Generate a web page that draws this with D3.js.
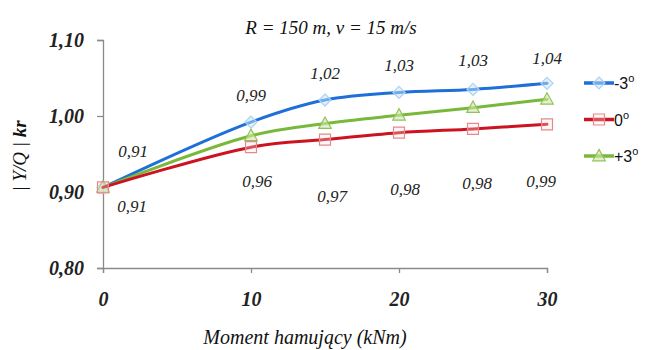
<!DOCTYPE html>
<html>
<head>
<meta charset="utf-8">
<script src="https://cdn.jsdelivr.net/npm/d3@7"></script>
<style>
  html, body { margin: 0; padding: 0; background: #fff; }
  svg { display: block; }
  .serif { font-family: "Liberation Serif", "Times New Roman", Times, "DejaVu Serif", serif; }
  .sans { font-family: "Liberation Sans", Arial, "DejaVu Sans", sans-serif; }
</style>
</head>
<body>
<svg id="chart"></svg>
<script>
// Data
const moments = [0, 10, 15, 20, 25, 30];
const seriesNames = ["-3", "0", "+3"];
const valsMinus3 = [0.906, 0.992, 1.021, 1.031, 1.035, 1.043];
const valsZero = [0.906, 0.959, 0.969, 0.978, 0.983, 0.989];
const valsPlus3 = [0.906, 0.974, 0.990, 1.001, 1.011, 1.022];
const labelsTop = ["0,91", "0,99", "1,02", "1,03", "1,03", "1,04"];
const labelsBottom = ["0,91", "0,96", "0,97", "0,98", "0,98", "0,99"];
const yTicks = [0.80, 0.90, 1.00, 1.10];
const xTicks = [0, 10, 20, 30];

const width = 652, height = 350;
const margin = { top: 40, right: 105, bottom: 82, left: 103 };

const svg = d3.select("#chart").attr("width", width).attr("height", height);

const x = d3.scaleLinear().domain([0, 30]).range([margin.left, width - margin.right]);
const y = d3.scaleLinear().domain([0.80, 1.10]).range([height - margin.bottom, margin.top]);

const axisColor = "#8a8a8a";

// y axis
const yAxis = d3.axisLeft(y).tickValues(yTicks).tickSize(6)
    .tickFormat(function (d) { return d3.format(".2f")(d).replace(".", ","); });
svg.append("g")
    .attr("transform", "translate(" + margin.left + ",0)")
    .call(yAxis)
    .call(function (g) { g.select(".domain").attr("stroke", axisColor).attr("stroke-width", 1.3); })
    .call(function (g) { g.selectAll(".tick line").attr("stroke", axisColor).attr("stroke-width", 1.3); })
    .call(function (g) {
        g.selectAll(".tick text")
            .attr("x", -19)
            .attr("class", "serif")
            .style("font-style", "italic")
            .style("font-weight", "bold")
            .style("font-size", "20px")
            .attr("fill", "#222");
    });

// x axis
const xAxis = d3.axisBottom(x).tickValues(xTicks).tickSize(5).tickSizeOuter(5);
svg.append("g")
    .attr("transform", "translate(0," + (height - margin.bottom) + ")")
    .call(xAxis)
    .call(function (g) { g.select(".domain").attr("stroke", axisColor).attr("stroke-width", 1.3); })
    .call(function (g) { g.selectAll(".tick line").attr("stroke", axisColor).attr("stroke-width", 1.3); })
    .call(function (g) {
        g.selectAll(".tick text")
            .attr("y", 24)
            .attr("class", "serif")
            .style("font-style", "italic")
            .style("font-weight", "bold")
            .style("font-size", "20px")
            .attr("fill", "#222");
    });
svg.selectAll("g").attr("font-family", null).attr("font-size", null);

// series
const series = [
    { name: seriesNames[0], values: valsMinus3, color: "#1f6fd8", marker: "diamond", markColor: "#a9d3f2", markFill: "rgba(200,228,250,0.5)" },
    { name: seriesNames[2], values: valsPlus3, color: "#79b83a", marker: "triangle", markColor: "#8fc45a", markFill: "rgba(210,230,170,0.6)" },
    { name: seriesNames[1], values: valsZero, color: "#cc1420", marker: "square", markColor: "#e48a8a", markFill: "rgba(255,230,230,0.3)" }
];

const line = d3.line()
    .x(function (d) { return x(d[0]); })
    .y(function (d) { return y(d[1]); })
    .curve(d3.curveCatmullRom.alpha(0.5));

function markerPath(type, s) {
    if (type === "diamond") return "M0," + (-s) + "L" + s + ",0L0," + s + "L" + (-s) + ",0Z";
    if (type === "square") return "M" + (-s) + "," + (-s) + "h" + (2 * s) + "v" + (2 * s) + "h" + (-2 * s) + "Z";
    return "M0," + (-s * 1.1) + "L" + (s * 1.05) + "," + (s * 0.8) + "L" + (-s * 1.05) + "," + (s * 0.8) + "Z";
}

series.forEach(function (s) {
    const pts = moments.map(function (m, i) { return [m, s.values[i]]; });
    svg.append("path")
        .datum(pts)
        .attr("d", line)
        .attr("fill", "none")
        .attr("stroke", s.color)
        .attr("stroke-width", 3)
        .attr("stroke-linecap", "round");
    svg.append("g").selectAll("path")
        .data(pts)
        .enter()
        .append("path")
        .attr("transform", function (d) { return "translate(" + x(d[0]) + "," + y(d[1]) + ")"; })
        .attr("d", markerPath(s.marker, s.marker === "square" ? 5.5 : 6))
        .attr("fill", s.markFill)
        .attr("stroke", s.markColor)
        .attr("stroke-width", 1.2);
});

// value labels
const topOffsets = [[30, -36], [0, -27], [0, -27], [0, -27], [0, -29], [0, -25]];
const bottomOffsets = [[29, 19], [6, 34], [7, 56], [6, 56], [4, 54], [-6, 57]];

function drawLabels(labels, values, offsets) {
    svg.append("g").selectAll("text")
        .data(labels)
        .enter()
        .append("text")
        .attr("class", "serif")
        .attr("x", function (d, i) { return x(moments[i]) + offsets[i][0]; })
        .attr("y", function (d, i) { return y(values[i]) + offsets[i][1]; })
        .attr("dy", "0.35em")
        .attr("text-anchor", "middle")
        .style("font-style", "italic")
        .style("font-size", "17px")
        .attr("fill", "#222")
        .text(function (d) { return d; });
}
drawLabels(labelsTop, valsMinus3, topOffsets);
drawLabels(labelsBottom, valsZero, bottomOffsets);

// legend
const legendOrder = [series[0], series[2], series[1]];
const legend = svg.append("g").attr("transform", "translate(" + (width - margin.right + 37) + "," + 83 + ")");
legendOrder.forEach(function (s, i) {
    const g = legend.append("g").attr("transform", "translate(0," + (i * 36.5) + ")");
    g.append("line").attr("x1", 0).attr("x2", 30).attr("y1", 0).attr("y2", 0)
        .attr("stroke", s.color).attr("stroke-width", 3.5);
    g.append("path").attr("transform", "translate(15,0)")
        .attr("d", markerPath(s.marker, s.marker === "square" ? 5.5 : 6))
        .attr("fill", s.markFill).attr("stroke", s.markColor).attr("stroke-width", 1.2);
    const t = g.append("text").attr("class", "sans").attr("x", 30).attr("y", 0).attr("dy", "0.38em")
        .style("font-size", "16px").attr("fill", "#111");
    t.append("tspan").text(s.name);
    t.append("tspan").attr("dy", "-0.6em").style("font-size", "11px").text("o");
});

// title
svg.append("text")
    .attr("class", "serif")
    .attr("x", 331).attr("y", 27).attr("dy", "0.35em")
    .attr("text-anchor", "middle")
    .style("font-style", "italic")
    .style("font-size", "19px").attr("fill", "#111")
    .text("R = 150 m, v = 15 m/s");

// x axis title
svg.append("text")
    .attr("class", "serif")
    .attr("x", 305).attr("y", 337).attr("dy", "0.35em")
    .attr("text-anchor", "middle")
    .style("font-style", "italic")
    .style("font-size", "20px").attr("fill", "#111")
    .text("Moment hamujący (kNm)");

// y axis title
const yt = svg.append("text")
    .attr("class", "serif")
    .attr("transform", "translate(19,156) rotate(-90)")
    .attr("dy", "0.35em")
    .attr("text-anchor", "middle")
    .style("font-style", "italic")
    .style("font-size", "19px").attr("fill", "#111");
yt.append("tspan").text("| Y/Q | ");
yt.append("tspan").style("font-weight", "bold").text("kr");
</script>
</body>
</html>
